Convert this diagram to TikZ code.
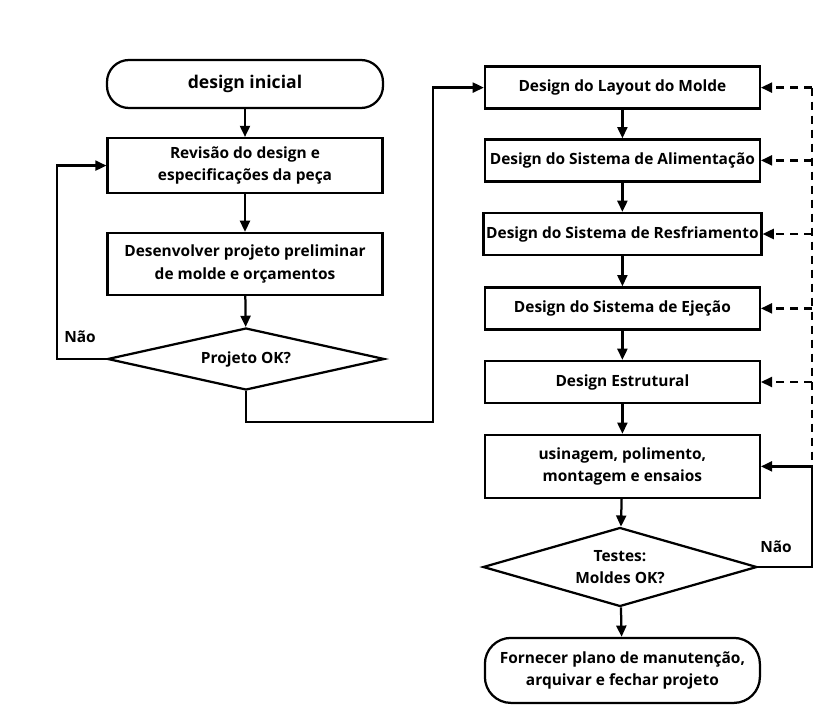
\documentclass[tikz,border=0pt]{standalone}
\usepackage{fontspec}
\setmainfont{Open Sans}
\usetikzlibrary{positioning,arrows.meta,shapes.geometric}

\begin{document}
\begin{tikzpicture}[
    font=\fontsize{11}{16}\selectfont\bfseries,
    terminal/.style={
        rectangle,
        rounded corners=0.65cm,
        draw=black,
        line width=1.6pt,
        align=center,
        minimum width=6.9cm
    },
    process/.style={
        rectangle,
        draw=black,
        line width=1.6pt,
        align=center,
        inner sep=2pt,
        minimum width=6.87cm,
        minimum height=1.05cm
    },
    decision/.style={
        diamond,
        draw=black,
        line width=1.6pt,
        align=center,
        inner sep=0pt,
        aspect=4
    },
    arrow/.style={
        -{Triangle[length=0.28cm,width=0.25cm]},
        line width=1.6pt,
        draw=black
    },
    dasharrow/.style={
        arrow,
        dash pattern=on 0.2cm off 0.15cm
    }
]

% Page size
\useasboundingbox (0,0) rectangle (20.925,-17.9);

% Left column - preliminary stage
\node[terminal, minimum height=1.2cm, rounded corners=0.55cm, font=\fontsize{12.5}{16}\selectfont\bfseries] (inicio) at (6.125,-2.1) {design inicial};
\node[process, minimum height=1.375cm] (revisao) at (6.125,-4.14) {Revisão do design e\\especificações da peça};
\node[process, minimum height=1.55cm] (prelim) at (6.125,-6.6) {Desenvolver projeto preliminar\\de molde e orçamentos};
\node[decision, minimum width=6.925cm, minimum height=1.55cm] (check1) at (6.15,-8.975) {Projeto OK?};

% Right column - mould design stages
\node[process] (layout) at (15.56,-2.19) {Design do Layout do Molde};
\node[process] (alim) at (15.56,-4.01) {Design do Sistema de Alimentação};
\node[process] (resfr) at (15.56,-5.85) {Design do Sistema de Resfriamento};
\node[process] (ejecao) at (15.56,-7.71) {Design do Sistema de Ejeção};
\node[process] (estrut) at (15.56,-9.55) {Design Estrutural};
\node[process, minimum height=1.575cm] (usinagem) at (15.56,-11.66) {usinagem, polimento,\\montagem e ensaios};
\node[decision, minimum width=6.85cm, minimum height=1.975cm] (check2) at (15.5,-14.175) {Testes:\\Moldes OK?};
\node[terminal, minimum height=1.625cm, minimum width=6.875cm] (fim) at (15.56,-16.76) {Fornecer plano de manutenção,\\arquivar e fechar projeto};

% Rails for the return lines
\coordinate (leftrail) at (1.425,0);
\coordinate (jog) at (10.825,-10.55);
\coordinate (rightrail) at (20.3,0);

% Main flow
\draw[arrow] (inicio) -- (revisao);
\draw[arrow] (revisao) -- (prelim);
\draw[arrow] (prelim) -- (check1);
\draw[arrow] (check1.south) |- (jog) |- (layout.west);
\draw[arrow] (layout) -- (alim);
\draw[arrow] (alim) -- (resfr);
\draw[arrow] (resfr) -- (ejecao);
\draw[arrow] (ejecao) -- (estrut);
\draw[arrow] (estrut) -- (usinagem);
\draw[arrow] (usinagem) -- (check2);
\draw[arrow] (check2) -- (fim);

% Loop back on the left
\draw[arrow] (check1.west) -- (leftrail |- check1.west) |- (revisao.west);
\node at (2.0,-8.425) {Não};

% Loop back on the right
\draw[arrow] (check2.east) -| (rightrail |- usinagem.east) -- (usinagem.east);
\node at (19.4,-13.675) {Não};

% Dashed feedback to the design stages
\draw[line width=1.6pt, dash pattern=on 0.2cm off 0.15cm] (rightrail |- layout.east) -- (rightrail |- usinagem.east);
\foreach \n in {layout,alim,resfr,ejecao,estrut}
    \draw[dasharrow] (rightrail |- \n.east) -- (\n.east);

\end{tikzpicture}
\end{document}
